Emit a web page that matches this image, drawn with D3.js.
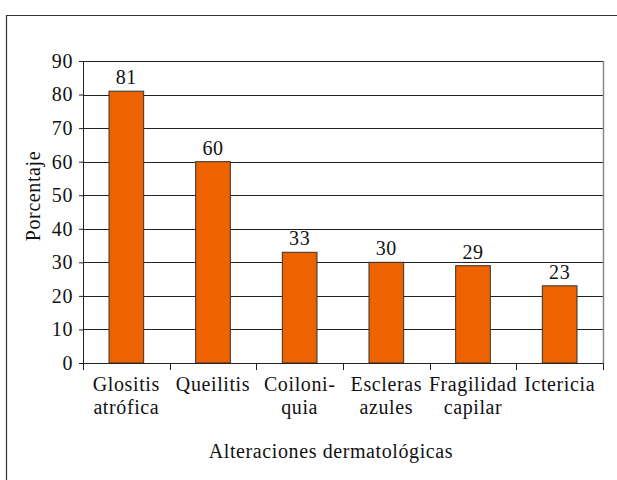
<!DOCTYPE html>
<meta charset="utf-8">
<script src="https://d3js.org/d3.v7.min.js"></script>
<style>
body { margin: 0; background: #fff; }
svg text { font-family: "Liberation Serif", "Times New Roman", "DejaVu Serif", serif !important; fill: #111; letter-spacing: 0.6px; }
</style>
<body>
<div id="my_dataviz"></div>
<script>
// data
var categories = [["Glositis", "atrófica"], ["Queilitis"], ["Coiloni-", "quia"], ["Escleras", "azules"], ["Fragilidad", "capilar"], ["Ictericia"]];
var values = [81, 60, 33, 30, 29, 23];
var yTicks = [0, 10, 20, 30, 40, 50, 60, 70, 80, 90];

var serif = '"Liberation Serif", "Times New Roman", serif';
var W = 617, H = 480;
var margin = {top: 61, right: 14, bottom: 117, left: 83},
    width = W - margin.left - margin.right,
    height = H - margin.top - margin.bottom;

var root = d3.select("#my_dataviz").append("svg")
  .attr("width", W).attr("height", H)
  .attr("font-family", serif);

// outer frame (cut off on the right and bottom)
root.append("path")
  .attr("d", "M6.5,480 V15.5 H617")
  .attr("fill", "none").attr("stroke", "#333").attr("stroke-width", 1.2);

var svg = root.append("g")
  .attr("transform", "translate(" + margin.left + "," + margin.top + ")");

var x = d3.scaleBand()
  .domain(d3.range(categories.length))
  .range([0, width])
  .paddingInner(0.6).paddingOuter(0.3);

var y = d3.scaleLinear().domain([0, 90]).range([height, 0]);

// gridlines
svg.append("g").selectAll("line")
  .data(yTicks.slice(1))
  .enter().append("line")
    .attr("x1", 0).attr("x2", width)
    .attr("y1", function(d) { return Math.round(y(d)) + 0.5; })
    .attr("y2", function(d) { return Math.round(y(d)) + 0.5; })
    .attr("stroke", "#222").attr("stroke-width", 1);

// right border of plot area
svg.append("line")
  .attr("x1", width + 0.5).attr("x2", width + 0.5)
  .attr("y1", y(90)).attr("y2", height)
  .attr("stroke", "#888").attr("stroke-width", 1.5);

// bars
svg.append("g").selectAll("rect")
  .data(values)
  .enter().append("rect")
    .attr("x", function(d, i) { return x(i); })
    .attr("y", function(d) { return y(d); })
    .attr("width", x.bandwidth())
    .attr("height", function(d) { return height - y(d); })
    .attr("fill", "#EE6200")
    .attr("stroke", "#333").attr("stroke-width", 1);

// value labels
svg.append("g").selectAll("text")
  .data(values)
  .enter().append("text")
    .attr("x", function(d, i) { return x(i) + x.bandwidth() / 2; })
    .attr("y", function(d) { return y(d) - 7; })
    .attr("text-anchor", "middle")
    .style("font-size", "20px")
    .text(function(d) { return d; });

// y axis
var yAxis = svg.append("g")
  .call(d3.axisLeft(y).tickValues(yTicks).tickSize(4).tickPadding(6))
  .attr("font-family", serif);
yAxis.select(".domain").attr("stroke", "#222");
yAxis.selectAll(".tick line").attr("stroke", "#222");
yAxis.selectAll("text").style("font-size", "20px").attr("fill", "#111");

// x axis with ticks at category boundaries
var step = width / categories.length;
var xAxis = svg.append("g").attr("transform", "translate(0," + height + ")");
xAxis.append("line")
  .attr("x1", 0).attr("x2", width).attr("y1", 0.5).attr("y2", 0.5)
  .attr("stroke", "#222");
xAxis.selectAll(".tk")
  .data(d3.range(categories.length + 1))
  .enter().append("line")
    .attr("x1", function(d) { return Math.round(d * step) + 0.5; })
    .attr("x2", function(d) { return Math.round(d * step) + 0.5; })
    .attr("y1", 0).attr("y2", 7)
    .attr("stroke", "#222");

var lbl = xAxis.selectAll(".lbl")
  .data(categories)
  .enter().append("text")
    .attr("text-anchor", "middle")
    .attr("transform", function(d, i) { return "translate(" + (x(i) + x.bandwidth() / 2) + ",0)"; })
    .style("font-size", "20px");
lbl.selectAll("tspan")
  .data(function(d) { return d; })
  .enter().append("tspan")
    .attr("x", 0)
    .attr("y", function(d, j) { return 28 + j * 23; })
    .text(function(d) { return d; });

// axis titles
svg.append("text")
  .attr("x", 331 - margin.left)
  .attr("y", height + 95)
  .attr("text-anchor", "middle")
  .style("font-size", "20px")
  .text("Alteraciones dermatológicas");

svg.append("text")
  .attr("transform", "rotate(-90)")
  .attr("x", -135)
  .attr("y", -43)
  .attr("text-anchor", "middle")
  .style("font-size", "20px")
  .text("Porcentaje");
</script>
</body>
